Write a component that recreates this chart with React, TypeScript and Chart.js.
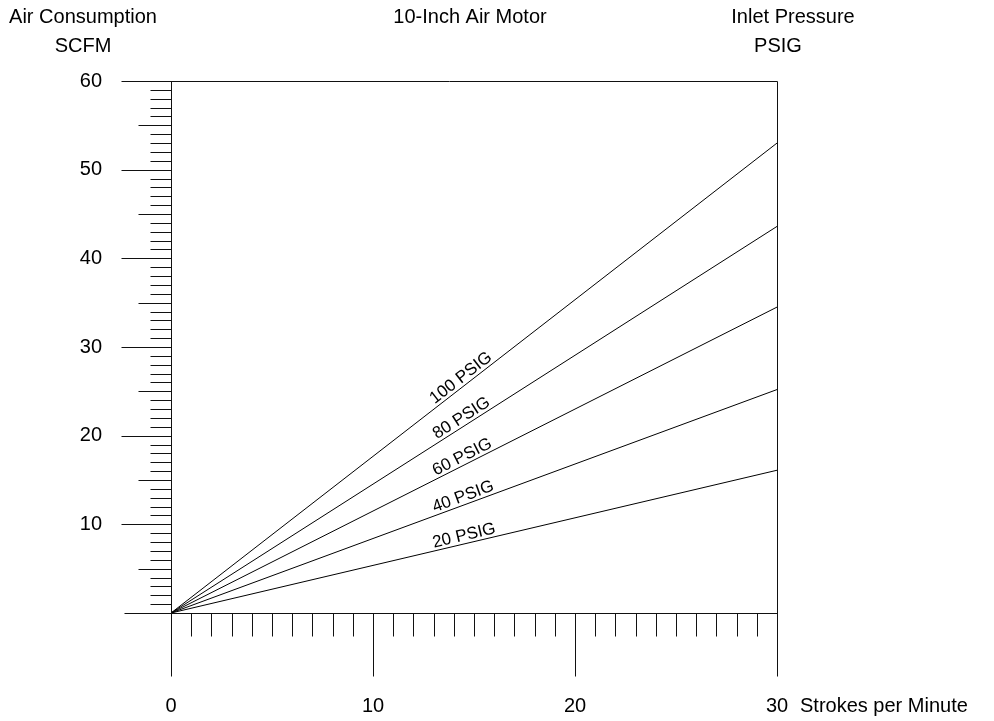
import React, { useEffect, useRef } from 'react';
import { Chart, registerables } from 'chart.js';

Chart.register(...registerables);

// ---- data ----
const strokesPerMinute = [0, 30];
const psig100 = [0, 53];
const psig80 = [0, 43.6];
const psig60 = [0, 34.5];
const psig40 = [0, 25.2];
const psig20 = [0, 16.1];
const seriesNames = ['100 PSIG', '80 PSIG', '60 PSIG', '40 PSIG', '20 PSIG'];
const seriesValues = [psig100, psig80, psig60, psig40, psig20];
const xTickLabels = ['0', '10', '20', '30'];
const yTickLabels = ['', '10', '20', '30', '40', '50', '60'];
const headerLeft = ['Air Consumption', 'SCFM'];
const headerCenter = '10-Inch Air Motor';
const headerRight = ['Inlet Pressure', 'PSIG'];
const xAxisTitle = 'Strokes per Minute';
const seriesLabelAtX = 14.6;

const FONT = '"Liberation Sans", Arial, Helvetica, sans-serif';
const FONT_SIZE = 20;

const decorPlugin = {
  id: 'decor',
  afterDraw(chart: any) {
    const { ctx } = chart;
    const xs = chart.scales.x;
    const ys = chart.scales.y;
    const px = (v: number) => Math.round(xs.getPixelForValue(v)) + 0.5;
    const py = (v: number) => Math.round(ys.getPixelForValue(v)) + 0.5;
    const xMin = xs.min, xMax = xs.max, yMin = ys.min, yMax = ys.max;
    const bottomExt = py(yMin) + 63;

    ctx.save();
    ctx.strokeStyle = '#111';
    ctx.lineWidth = 1;
    ctx.beginPath();
    // frame
    ctx.moveTo(px(xMin), py(yMax));
    ctx.lineTo(px(xMin), bottomExt);
    ctx.moveTo(px(xMax), py(yMax));
    ctx.lineTo(px(xMax), bottomExt);
    ctx.moveTo(px(xMin) - 50, py(yMax));
    ctx.lineTo(px(xMax), py(yMax));
    ctx.moveTo(px(xMin) - 47, py(yMin));
    ctx.lineTo(px(xMax), py(yMin));
    // y ticks
    for (let v = yMin + 1; v < yMax; v++) {
      const len = v % 10 === 0 ? 50 : v % 5 === 0 ? 33 : 21;
      ctx.moveTo(px(xMin) - len, py(v));
      ctx.lineTo(px(xMin), py(v));
    }
    // x ticks
    for (let v = xMin + 1; v < xMax; v++) {
      const len = v % 10 === 0 ? 63 : 23;
      ctx.moveTo(px(v), py(yMin));
      ctx.lineTo(px(v), py(yMin) + len);
    }
    ctx.stroke();

    // series labels along lines
    ctx.fillStyle = '#000';
    ctx.font = `17px ${FONT}`;
    ctx.textAlign = 'center';
    ctx.textBaseline = 'middle';
    seriesNames.forEach((name, i) => {
      const meta = chart.getDatasetMeta(i);
      const p0 = meta.data[0];
      const p1 = meta.data[1];
      const ang = Math.atan2(p1.y - p0.y, p1.x - p0.x);
      const cx = xs.getPixelForValue(seriesLabelAtX);
      const t = (cx - p0.x) / (p1.x - p0.x);
      const cy = p0.y + t * (p1.y - p0.y);
      ctx.save();
      ctx.translate(cx, cy);
      ctx.rotate(ang);
      ctx.fillText(name, 0, -8);
      ctx.restore();
    });

    // headers
    ctx.font = `${FONT_SIZE}px ${FONT}`;
    ctx.textAlign = 'center';
    ctx.textBaseline = 'middle';
    ctx.fillText(headerLeft[0], 83, 17);
    ctx.fillText(headerLeft[1], 83, 46);
    ctx.fillText(headerCenter, 470, 17);
    ctx.fillText(headerRight[0], 793, 17);
    ctx.fillText(headerRight[1], 778, 46);

    // x axis title next to last tick label
    ctx.textAlign = 'left';
    ctx.fillText(xAxisTitle, xs.getPixelForValue(xMax) + 23, py(yMin) + 93);
    ctx.restore();
  },
};

export default function App() {
  const canvasRef = useRef<HTMLCanvasElement | null>(null);

  useEffect(() => {
    if (!canvasRef.current) return;
    const datasets = seriesNames.map((name, i) => ({
      label: name,
      data: strokesPerMinute.map((x, j) => ({ x, y: seriesValues[i][j] })),
      borderColor: '#000',
      borderWidth: 1,
      pointRadius: 0,
      fill: false,
      tension: 0,
    }));
    const chart = new Chart(canvasRef.current, {
      type: 'line',
      data: { datasets },
      options: {
        animation: false,
        responsive: false,
        devicePixelRatio: 1,
        layout: { padding: { left: 0, top: 79, right: 217, bottom: 0 } },
        plugins: { legend: { display: false }, tooltip: { enabled: false } },
        scales: {
          x: {
            type: 'linear',
            position: 'bottom',
            min: 0,
            max: 30,
            grid: { display: false, drawTicks: false },
            border: { display: false },
            ticks: {
              stepSize: 10,
              autoSkip: false,
              maxRotation: 0,
              padding: 81,
              color: '#000',
              font: { family: FONT, size: FONT_SIZE },
              callback: (v: any) => xTickLabels[Math.round(Number(v) / 10)] ?? '',
            },
            afterFit: (s: any) => {
              s.height = 108;
            },
          },
          y: {
            type: 'linear',
            position: 'left',
            min: 0,
            max: 60,
            grid: { display: false, drawTicks: false },
            border: { display: false },
            ticks: {
              stepSize: 10,
              autoSkip: false,
              padding: 69,
              color: '#000',
              font: { family: FONT, size: FONT_SIZE },
              callback: (v: any) => yTickLabels[Math.round(Number(v) / 10)] ?? '',
            },
            afterFit: (s: any) => {
              s.width = 171;
            },
          },
        },
      },
      plugins: [decorPlugin],
    });
    return () => chart.destroy();
  }, []);

  return (
    <div style={{ position: 'absolute', left: 0, top: 0, width: 994, height: 721, background: '#fff' }}>
      <canvas ref={canvasRef} width={994} height={721} style={{ display: 'block' }} />
    </div>
  );
}
